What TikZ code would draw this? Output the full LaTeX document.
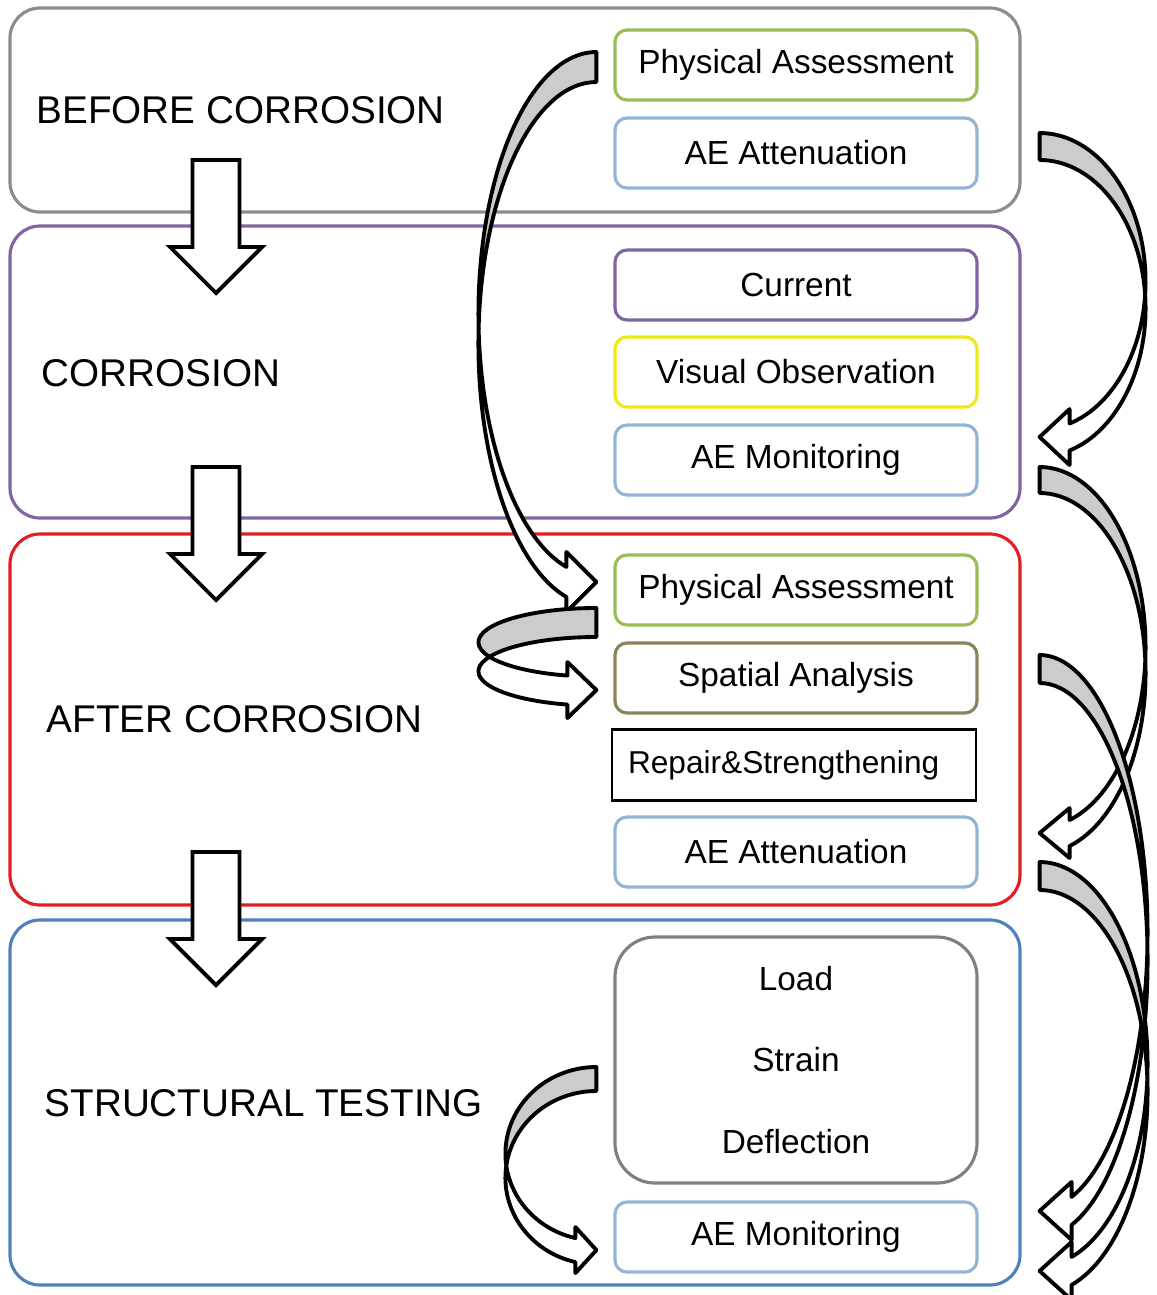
\documentclass[tikz,border=0pt]{standalone}
\usepackage{fontspec}
\setmainfont{Liberation Sans}
\usetikzlibrary{calc}

\definecolor{stageGray}{RGB}{140,140,140}
\definecolor{stagePurple}{RGB}{128,100,162}
\definecolor{stageRed}{RGB}{226,30,36}
\definecolor{stageBlue}{RGB}{79,129,189}
\definecolor{boxGreen}{RGB}{155,187,89}
\definecolor{boxBlue}{RGB}{149,179,215}
\definecolor{boxYellow}{RGB}{240,232,20}
\definecolor{boxOlive}{RGB}{138,131,90}
\definecolor{boxGray}{RGB}{128,128,128}
\definecolor{ribbonGray}{RGB}{204,204,204}

% #1 corner of flat end, #2 side (1 right, -1 left), #3 bulge, #4 radius,
% #5 thickness, #6 head length, #7 head half width
\newcommand{\ribbon}[7]{%
  \begin{scope}[shift={(#1)}, xscale=#2]
    \pgfmathsetmacro\ribCross{asin(#5/(2*#4))}
    \pgfmathsetmacro\ribEnd{-acos(#6/#3)}
    \pgfmathsetmacro\ribMid{-#4-#5/2+#4*sin(\ribEnd)}
    \pgfmathsetmacro\ribX{#3*cos(\ribCross)}
    \pgfmathsetmacro\ribY{-#4-#5/2}
    \pgfmathsetmacro\ribLow{-#4-#5+#4*sin(\ribEnd)}
    \pgfmathsetmacro\ribUp{\ribMid+#7}
    \pgfmathsetmacro\ribDown{\ribMid-#7}
    \filldraw[ribbonBack] (0,0)
      arc[start angle=90, end angle=-\ribCross, x radius=#3, y radius=#4]
      arc[start angle=\ribCross, end angle=90, x radius=#3, y radius=#4] -- cycle;
    \filldraw[ribbonFront] (\ribX,\ribY)
      arc[start angle=-\ribCross, end angle=\ribEnd, x radius=#3, y radius=#4]
      -- (#6,\ribUp) -- (0,\ribMid) -- (#6,\ribDown) -- (#6,\ribLow)
      arc[start angle=\ribEnd, end angle=\ribCross, x radius=#3, y radius=#4] -- cycle;
  \end{scope}}

\newcommand{\stagearrow}[1]{%
  \draw[blockArrow] ($(#1)+(-0.235,0)$) -- ++(0,-0.87) -- ++(-0.225,0)
    -- ++(0.46,-0.46) -- ++(0.46,0.46) -- ++(-0.225,0) -- ++(0,0.87) -- cycle;}

\begin{document}
\begin{tikzpicture}[
    stage/.style={draw,line width=0.9pt,rounded corners=0.3cm,minimum width=10.1cm},
    stageText/.style={anchor=west,inner sep=0pt,font=\fontsize{11}{13}\selectfont},
    item/.style={draw,line width=0.9pt,rounded corners=0.12cm,minimum width=3.62cm,
      minimum height=0.7cm,font=\fontsize{9.5}{11}\selectfont},
    blockArrow/.style={draw=black,fill=white,line width=1.1pt},
    ribbonBack/.style={draw=black,fill=ribbonGray,line width=1.1pt,line join=round},
    ribbonFront/.style={draw=black,fill=white,line width=1.1pt,line join=round}]

  \useasboundingbox (0,0) rectangle (11.57,-12.95);

  \node [stage,draw=stageGray,minimum height=2.04cm] at (5.15,-1.10) (beforeStage) {};
  \node [stage,draw=stagePurple,minimum height=2.92cm] at (5.15,-3.72) (corrosionStage) {};
  \node [stage,draw=stageRed,minimum height=3.71cm] at (5.15,-7.195) (afterStage) {};
  \node [stage,draw=stageBlue,minimum height=3.65cm] at (5.15,-11.025) (testingStage) {};

  \node [stageText] at (0.36,-1.10) (beforeLabel) {BEFORE CORROSION};
  \node [stageText] at (0.41,-3.73) (corrosionLabel) {CORROSION};
  \node [stageText] at (0.46,-7.19) (afterLabel) {AFTER CORROSION};
  \node [stageText] at (0.44,-11.03) (testingLabel) {STRUCTURAL TESTING};

  \node [item,draw=boxGreen] at (7.96,-0.65) (physBefore) {Physical Assessment};
  \node [item,draw=boxBlue] at (7.96,-1.53) (attBefore) {AE Attenuation};
  \node [item,draw=stagePurple] at (7.96,-2.85) (current) {Current};
  \node [item,draw=boxYellow] at (7.96,-3.72) (visual) {Visual Observation};
  \node [item,draw=boxBlue] at (7.96,-4.60) (monCorrosion) {AE Monitoring};
  \node [item,draw=boxGreen] at (7.96,-5.90) (physAfter) {Physical Assessment};
  \node [item,draw=boxOlive] at (7.96,-6.78) (spatial) {Spatial Analysis};
  \node [draw,line width=0.7pt,minimum height=0.71cm,inner xsep=0.16cm,text width=3.32cm,
    font=\fontsize{9}{11}\selectfont] at (7.94,-7.65) (repair) {Repair\&Strengthening};
  \node [item,draw=boxBlue] at (7.96,-8.52) (attAfter) {AE Attenuation};
  \node [item,draw=boxGray,rounded corners=0.4cm,minimum height=2.46cm,align=center,
    font=\fontsize{9.5}{23.3}\selectfont] at (7.96,-10.60) (measure) {Load\\Strain\\Deflection};
  \node [item,draw=boxBlue] at (7.96,-12.37) (monTesting) {AE Monitoring};

  \coordinate (downOne) at (2.16,-1.60);
  \coordinate (downTwo) at (2.16,-4.67);
  \coordinate (downThree) at (2.16,-8.52);
  \stagearrow{downOne}
  \stagearrow{downTwo}
  \stagearrow{downThree}

  \coordinate (ribPhys) at ($(physBefore.west)+(-0.17,0.13)$);
  \coordinate (ribSpatial) at ($(physAfter.west)+(-0.17,-0.18)$);
  \coordinate (ribMonitor) at ($(measure.west)+(-0.17,-0.07)$);
  \coordinate (ribAttBefore) at ($(attBefore.east)+(0.61,0.20)$);
  \coordinate (ribMonCorrosion) at ($(monCorrosion.east)+(0.61,-0.07)$);
  \coordinate (ribSpatialEnd) at ($(spatial.east)+(0.61,0.23)$);
  \coordinate (ribAttAfter) at ($(attAfter.east)+(0.61,-0.10)$);

  \ribbon{ribPhys}{-1}{1.18}{2.618}{0.30}{0.30}{0.30}
  \ribbon{ribSpatial}{-1}{1.18}{0.343}{0.29}{0.29}{0.28}
  \ribbon{ribMonitor}{-1}{0.91}{0.867}{0.24}{0.21}{0.23}
  \ribbon{ribAttBefore}{1}{1.06}{1.483}{0.27}{0.30}{0.28}
  \ribbon{ribMonCorrosion}{1}{1.06}{1.802}{0.26}{0.30}{0.25}
  \ribbon{ribSpatialEnd}{1}{1.08}{2.772}{0.28}{0.32}{0.29}
  \ribbon{ribAttAfter}{1}{1.08}{2.02}{0.28}{0.32}{0.29}

\end{tikzpicture}
\end{document}
